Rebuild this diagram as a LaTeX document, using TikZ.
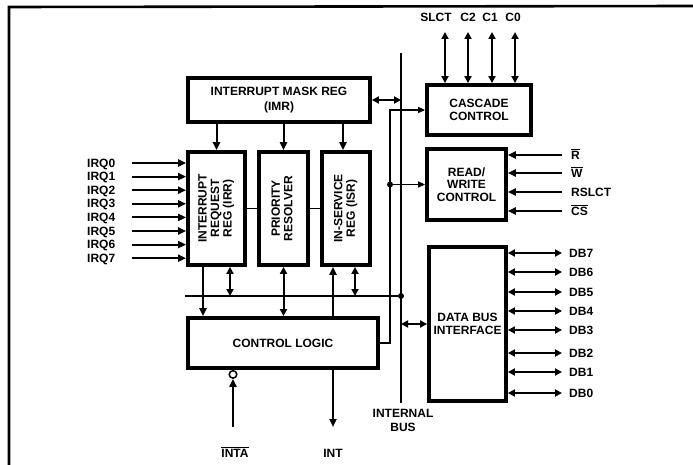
\documentclass[tikz,border=0pt]{standalone}
\usepackage{fontspec}
\setmainfont{Liberation Sans}
\usepackage{graphicx}
\usepackage{tikz}
\usetikzlibrary{arrows.meta,calc}
\newcommand{\ovl}[1]{$\overline{\mbox{#1}}$}
\newcommand{\vtext}[1]{\rotatebox{90}{\begin{tabular}{@{}c@{}}#1\end{tabular}}}
\tikzset{
  blk/.style={draw, line width=3.8pt, inner sep=0pt, align=center,
              font=\fontsize{12}{12.5}\selectfont\bfseries},
  sig/.style={font=\fontsize{12}{12.5}\selectfont\bfseries, inner sep=0pt,
              text height=8.6pt, text depth=0.4pt},
  flow/.style={-{Triangle[length=8pt,width=7pt]}, line width=2pt},
  dflow/.style={{Triangle[length=7pt,width=7pt]}-{Triangle[length=7pt,width=7pt]}, line width=2pt},
  bus/.style={line width=2.8pt},
  tap/.style={line width=1.5pt},
  tapflow/.style={tap, -{Triangle[length=7pt,width=6pt]}},
  dot/.style={circle, fill, inner sep=0pt, minimum size=6pt},
}
\begin{document}
\begin{tikzpicture}[x=1pt, y=-1pt]
  \useasboundingbox (0,0) rectangle (693,465);
  \draw[line width=2.6pt] (9,465) -- (9,7) -- (693,6);

  \node[blk, minimum width=182pt, minimum height=44pt] (imr) at (279,100)
    {INTERRUPT MASK REG\\[2.5pt](IMR)};
  \node[blk, minimum width=57pt, minimum height=113pt] (irr) at (216.5,208.5)
    {\vtext{INTERRUPT\\REQUEST\\REG (IRR)}};
  \node[blk, minimum width=49pt, minimum height=113pt] (pr) at (283.5,208.5)
    {\vtext{PRIORITY\\RESOLVER}};
  \node[blk, minimum width=48pt, minimum height=113pt] (isr) at (346,208.5)
    {\vtext{IN-SERVICE\\REG (ISR)}};
  \node[blk, minimum width=190pt, minimum height=50pt] (cl) at (283,343) {CONTROL LOGIC};
  \node[blk, minimum width=104pt, minimum height=50pt] (cas) at (479,110) {CASCADE\\CONTROL};
  \node[blk, minimum width=79pt, minimum height=71pt] (rw) at (466.5,184.5) {READ/\\WRITE\\CONTROL};
  \node[blk, minimum width=77pt, minimum height=154pt] (dbi) at (467.5,324) {DATA BUS\\INTERFACE};

  \coordinate (bustop) at (401,53);
  \coordinate (busbot) at (401,403);
  \draw[bus] (bustop) -- (busbot);
  \node[sig, align=center, text height=, text depth=] (buslbl) at (403,420) {INTERNAL\\[1.5pt]BUS};

  \coordinate (hbusl) at (185,296);
  \node[dot] (hdot) at (bustop |- hbusl) {};
  \draw[line width=1.7pt] (hbusl) -- (hdot);

  \coordinate (tapx) at (390,0);
  \draw[tapflow] (cl.east) -| (tapx |- cas.west) -- (cas.west);
  \node[dot] (rwdot) at (tapx |- rw.west) {};
  \draw[tapflow] (rwdot) -- (rw.west);

  \draw[dflow] (imr.east) -- (imr.east -| bustop);
  \draw[dflow] (dbi.west) -- (dbi.west -| bustop);

  \draw[flow] (imr.south -| irr.north) -- (irr.north);
  \draw[flow] (imr.south -| pr.north) -- (pr.north);
  \draw[flow] ([xshift=-3pt]imr.south -| isr.north) -- ([xshift=-3pt]isr.north);
  \draw[tap] (irr.east) -- (pr.west);
  \draw[tap] (pr.east) -- (isr.west);

  \draw[flow] ([xshift=-13.5pt]irr.south) -- ([xshift=-13.5pt]irr.south |- cl.north);
  \draw[dflow] ([xshift=13.5pt]irr.south) -- ([xshift=13.5pt]irr.south |- hdot);
  \draw[dflow] (pr.south) -- (cl.north -| pr.south);
  \draw[flow] ([xshift=-13pt]isr.south |- cl.north) -- ([xshift=-13pt]isr.south);
  \draw[dflow] ([xshift=9pt]isr.south) -- ([xshift=9pt]isr.south |- hdot);

  \coordinate (irqx) at (132,0);
  \foreach \i in {0,...,7} {
    \node[sig, anchor=west] (irq\i) at (87,{163+13.6*\i}) {IRQ\i};
    \draw[flow] (irq\i.west -| irqx) -- (irq\i.west -| irr.west);
  }

  \coordinate (rwx) at (562,0);
  \foreach \n/\y/\t in {rd/155/\ovl{R}, wr/173/\ovl{W}, rslct/192/RSLCT, cs/211/\ovl{CS}} {
    \node[sig, anchor=west] (\n) at (571,\y) {\t};
    \draw[flow] (\n.west -| rwx) -- (\n.west -| rw.east);
  }

  \foreach \n/\y in {7/253, 6/272, 5/292, 4/311, 3/330, 2/353, 1/372, 0/393} {
    \node[sig, anchor=west] (db\n) at (569,\y) {DB\n};
    \draw[dflow] (db\n.west -| rwx) -- (db\n.west -| dbi.east);
  }

  \foreach \n/\lx/\ax in {SLCT/436/445, C2/468/468, C1/490/492, C0/513/515} {
    \node[sig] (\n) at (\lx,17) {\n};
    \coordinate (p\n) at (\ax,32);
    \draw[dflow] (p\n) -- (p\n |- cas.north);
  }

  \node[circle, draw, line width=1.5pt, minimum size=7.5pt, inner sep=0pt, anchor=north] (inv)
    at ([xshift=-50pt]cl.south) {};
  \coordinate (intaend) at (233,427);
  \draw[flow] (intaend) -- (inv.south);
  \node[sig] (inta) at (235,453) {\ovl{INTA}};
  \coordinate (intend) at (333,427);
  \draw[flow] (cl.south -| intend) -- (intend);
  \node[sig] (int) at (333,453) {INT};
\end{tikzpicture}
\end{document}
